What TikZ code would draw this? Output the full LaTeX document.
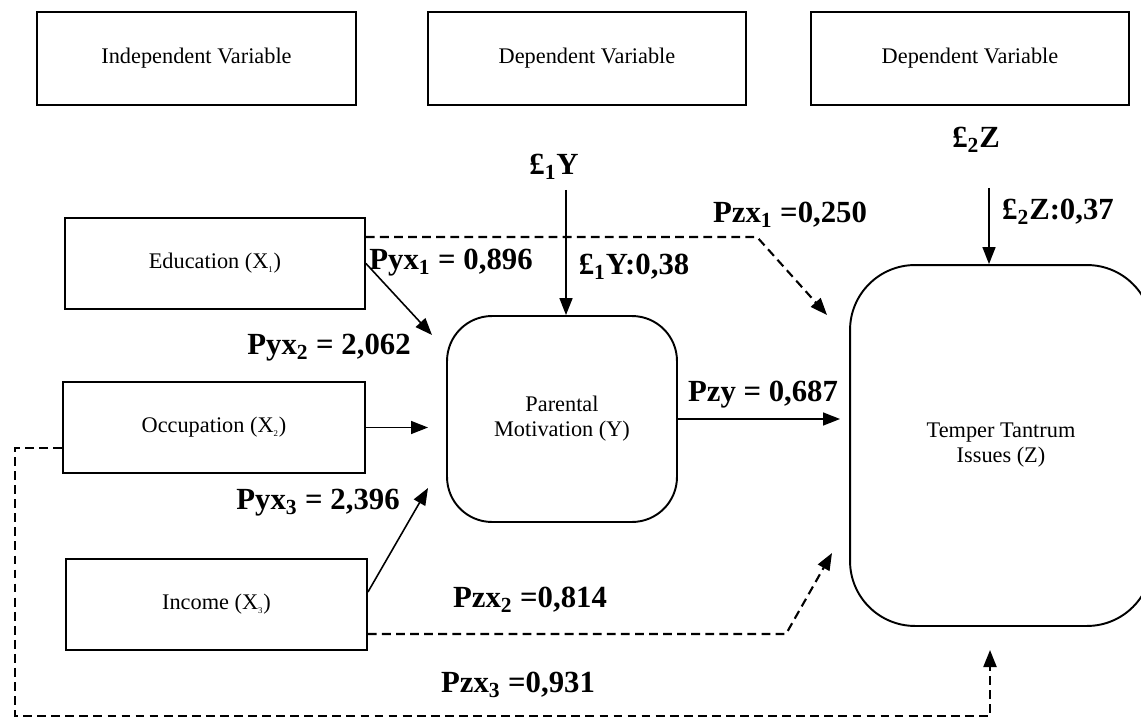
\documentclass[tikz,border=0pt]{standalone}
\usepackage{fontspec}
\setmainfont{Liberation Serif}
\usetikzlibrary{arrows.meta}

\begin{document}
\begin{tikzpicture}[x=0.02cm, y=-0.02cm, line width=0.9pt,
  >={Triangle[length=0.34cm,width=0.26cm]},
  box/.style={draw, line width=1.1pt, inner sep=0pt, align=center, font=\fontsize{12.7}{14.2}\selectfont},
  rbox/.style={box, rounded corners=#1},
  coef/.style={inner sep=0pt, font=\fontsize{17.5}{20}\selectfont\bfseries},
  dashpath/.style={line width=1.2pt, dash pattern=on 5pt off 3pt}]
\useasboundingbox (0,0) rectangle (1141,719);
% header boxes
\node[box, minimum width=6.38cm, minimum height=1.86cm] (indep) at (196.5,58.5) {Independent Variable};
\node[box, minimum width=6.36cm, minimum height=1.86cm] (depy) at (587,58.5) {Dependent Variable};
\node[box, minimum width=6.36cm, minimum height=1.86cm] (depz) at (970,58.5) {Dependent Variable};
% variables
\node[box, minimum width=6cm, minimum height=1.82cm] (edu) at (215,263.5) {Education (X\textsubscript{\tiny 1})};
\node[box, minimum width=6.04cm, minimum height=1.82cm] (occ) at (214,427.5) {Occupation (X\textsubscript{\tiny 2})};
\node[box, minimum width=6.02cm, minimum height=1.82cm] (inc) at (216.5,604.5) {Income (X\textsubscript{\tiny 3})};
\node[rbox=0.9cm, minimum width=4.6cm, minimum height=4.12cm] (par) at (562,419) {Parental\\Motivation (Y)};
\node[rbox=1.3cm, minimum width=6.04cm, minimum height=7.22cm] (tt) at (1001,445.5) {Temper Tantrum\\Issues (Z)};
% coefficients
\node[coef] (e1y) at (554,167) {£\textsubscript{1}Y};
\node[coef] (e1yval) at (634,267) {£\textsubscript{1}Y:0,38};
\node[coef] (e2z) at (976,140) {£\textsubscript{2}Z};
\node[coef] (e2zval) at (1058,212) {£\textsubscript{2}Z:0,37};
\node[coef] (pyx1) at (451,263) {Pyx\textsubscript{1} = 0,896};
\node[coef] (pyx2) at (329,348) {Pyx\textsubscript{2} = 2,062};
\node[coef] (pyx3) at (318,503) {Pyx\textsubscript{3} = 2,396};
\node[coef] (pzy) at (763,395) {Pzy = 0,687};
\node[coef] (pzx1) at (790,215) {Pzx\textsubscript{1} =0,250};
\node[coef] (pzx2) at (530,600) {Pzx\textsubscript{2} =0,814};
\node[coef] (pzx3) at (518,685) {Pzx\textsubscript{3} =0,931};
% arrow ends
\coordinate (e1ytop) at (566,190);
\coordinate (e2ztop) at (989,188);
\coordinate (pin1) at (432,335);
\coordinate (pin2) at (428,427.5);
\coordinate (pin3) at (428,488);
\coordinate (zin1) at (827,315);
\coordinate (zin2) at (832,553);
\coordinate (zin3) at (990,650);
\coordinate (zin4) at (840,419);
\coordinate (bend1) at (757,237);
\coordinate (bend2) at (786,634);
\coordinate (low) at (15,716);
\draw [->] (e1ytop) -- (e1ytop |- par.north);
\draw [->] (e2ztop) -- (e2ztop |- tt.north);
\draw [->] (edu.east) -- (pin1);
\draw [->] (occ.east) -- (pin2);
\draw [->] ([yshift=0.25cm]inc.east) -- (pin3);
\draw [->] (par.east) -- (zin4);
\draw [->, dashpath] ([yshift=0.53cm]edu.east) -- (bend1) -- (zin1);
\draw [->, dashpath] ([yshift=-0.59cm]inc.east) -- (bend2) -- (zin2);
\draw [->, dashpath] ([yshift=-0.41cm]occ.west) -| (low) -| (zin3);
\end{tikzpicture}
\end{document}
